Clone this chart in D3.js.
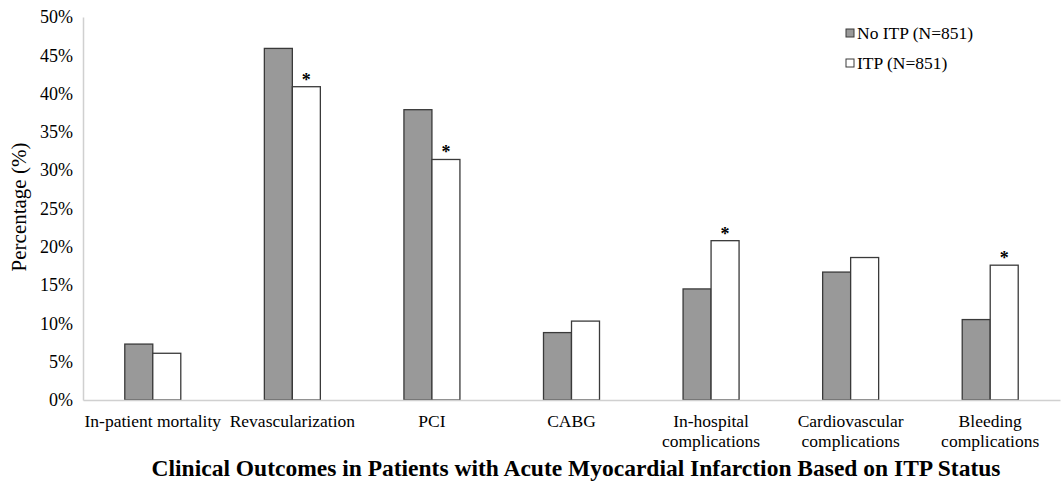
<!DOCTYPE html>
<html>
<head>
<meta charset="utf-8">
<script src="https://cdn.jsdelivr.net/npm/d3@7"></script>
<style>
  body { margin: 0; background: #fff; }
  text { font-family: "Liberation Serif", "Times New Roman", serif; fill: #000; }
</style>
</head>
<body>
<svg id="chart"></svg>
<script>
// chart data
var categories = ["In-patient mortality", "Revascularization", "PCI", "CABG",
	"In-hospital complications", "Cardiovascular complications", "Bleeding complications"];
var categoryLines = [["In-patient mortality"], ["Revascularization"], ["PCI"], ["CABG"],
	["In-hospital", "complications"], ["Cardiovascular", "complications"], ["Bleeding", "complications"]];
var seriesNames = ["No ITP (N=851)", "ITP (N=851)"];
var noItp = [7.3, 45.9, 37.9, 8.8, 14.5, 16.7, 10.5];
var itp = [6.1, 40.9, 31.4, 10.3, 20.8, 18.6, 17.6];
var significant = [false, true, true, false, true, false, true];
var yTicks = [0, 5, 10, 15, 20, 25, 30, 35, 40, 45, 50];
var title = "Clinical Outcomes in Patients with Acute Myocardial Infarction Based on ITP Status";

var width = 1061, height = 483;
var margin = { top: 17, right: 1, bottom: 83, left: 83 };

var svg = d3.select("#chart").attr("width", width).attr("height", height);

var xScale = d3.scaleBand().domain(categories)
	.range([margin.left, width - margin.right]).paddingInner(0).paddingOuter(0);
var yScale = d3.scaleLinear().domain([0, 50]).range([height - margin.bottom, margin.top]);
var barW = 28;

// y axis
var yAxis = d3.axisLeft(yScale).tickValues(yTicks).tickSize(0).tickPadding(10)
	.tickFormat(function(d) { return d + "%"; });
var yAxisLine = svg.append("g").attr("transform", "translate(" + margin.left + ",0)").call(yAxis);
yAxisLine.select(".domain").attr("stroke", "#d0d0d0").attr("stroke-width", 1.5);
yAxisLine.selectAll("text").style("font-family", "Liberation Serif").attr("font-size", 18);

// bars
var groups = svg.append("g").selectAll("g").data(categories).enter().append("g");
groups.append("rect")
	.attr("x", function(d) { return xScale(d) + xScale.bandwidth() / 2 - barW; })
	.attr("y", function(d, i) { return yScale(noItp[i]); })
	.attr("width", barW)
	.attr("height", function(d, i) { return yScale(0) - yScale(noItp[i]); })
	.attr("fill", "#999999").attr("stroke", "#3a3a3a").attr("stroke-width", 1.3);
groups.append("rect")
	.attr("x", function(d) { return xScale(d) + xScale.bandwidth() / 2; })
	.attr("y", function(d, i) { return yScale(itp[i]); })
	.attr("width", barW)
	.attr("height", function(d, i) { return yScale(0) - yScale(itp[i]); })
	.attr("fill", "#ffffff").attr("stroke", "#3a3a3a").attr("stroke-width", 1.3);
groups.filter(function(d, i) { return significant[i]; }).append("text")
	.attr("x", function(d) { return xScale(d) + xScale.bandwidth() / 2 + barW / 2; })
	.attr("y", function(d) { return yScale(itp[categories.indexOf(d)]) - 1; })
	.attr("text-anchor", "middle").attr("font-size", 18).attr("font-weight", "bold")
	.text("*");

// x axis
var xAxisLine = svg.append("g").attr("transform", "translate(0," + yScale(0) + ")")
	.call(d3.axisBottom(xScale).tickSize(0).tickFormat(""));
xAxisLine.select(".domain").attr("stroke", "#d0d0d0").attr("stroke-width", 1.5);
var xLabels = svg.append("g");
categories.forEach(function(c, i) {
	var t = xLabels.append("text")
		.attr("text-anchor", "middle").attr("font-size", 17.5)
		.attr("transform", "translate(" + (xScale(c) + xScale.bandwidth() / 2) + "," + (yScale(0) + 27) + ")");
	categoryLines[i].forEach(function(line, j) {
		t.append("tspan").attr("x", 0).attr("dy", j == 0 ? 0 : 20).text(line);
	});
});

// y title
svg.append("text")
	.attr("transform", "translate(26," + 207 + ") rotate(-90)")
	.attr("text-anchor", "middle").attr("font-size", 21).text("Percentage (%)");

// legend
var legendFills = ["#999999", "#ffffff"];
var legend = svg.append("g").selectAll("g").data(seriesNames).enter().append("g")
	.attr("transform", function(d, i) { return "translate(846," + (29 + i * 30) + ")"; });
legend.append("rect").attr("width", 8).attr("height", 8)
	.attr("fill", function(d, i) { return legendFills[i]; })
	.attr("stroke", "#3a3a3a").attr("stroke-width", 1);
legend.append("text").attr("x", 11).attr("y", 10).attr("font-size", 17.5)
	.text(function(d) { return d; });

// title
svg.append("text")
	.attr("transform", "translate(576,476)")
	.attr("text-anchor", "middle").attr("font-size", 23.5).attr("font-weight", "bold")
	.text(title);
</script>
</body>
</html>
